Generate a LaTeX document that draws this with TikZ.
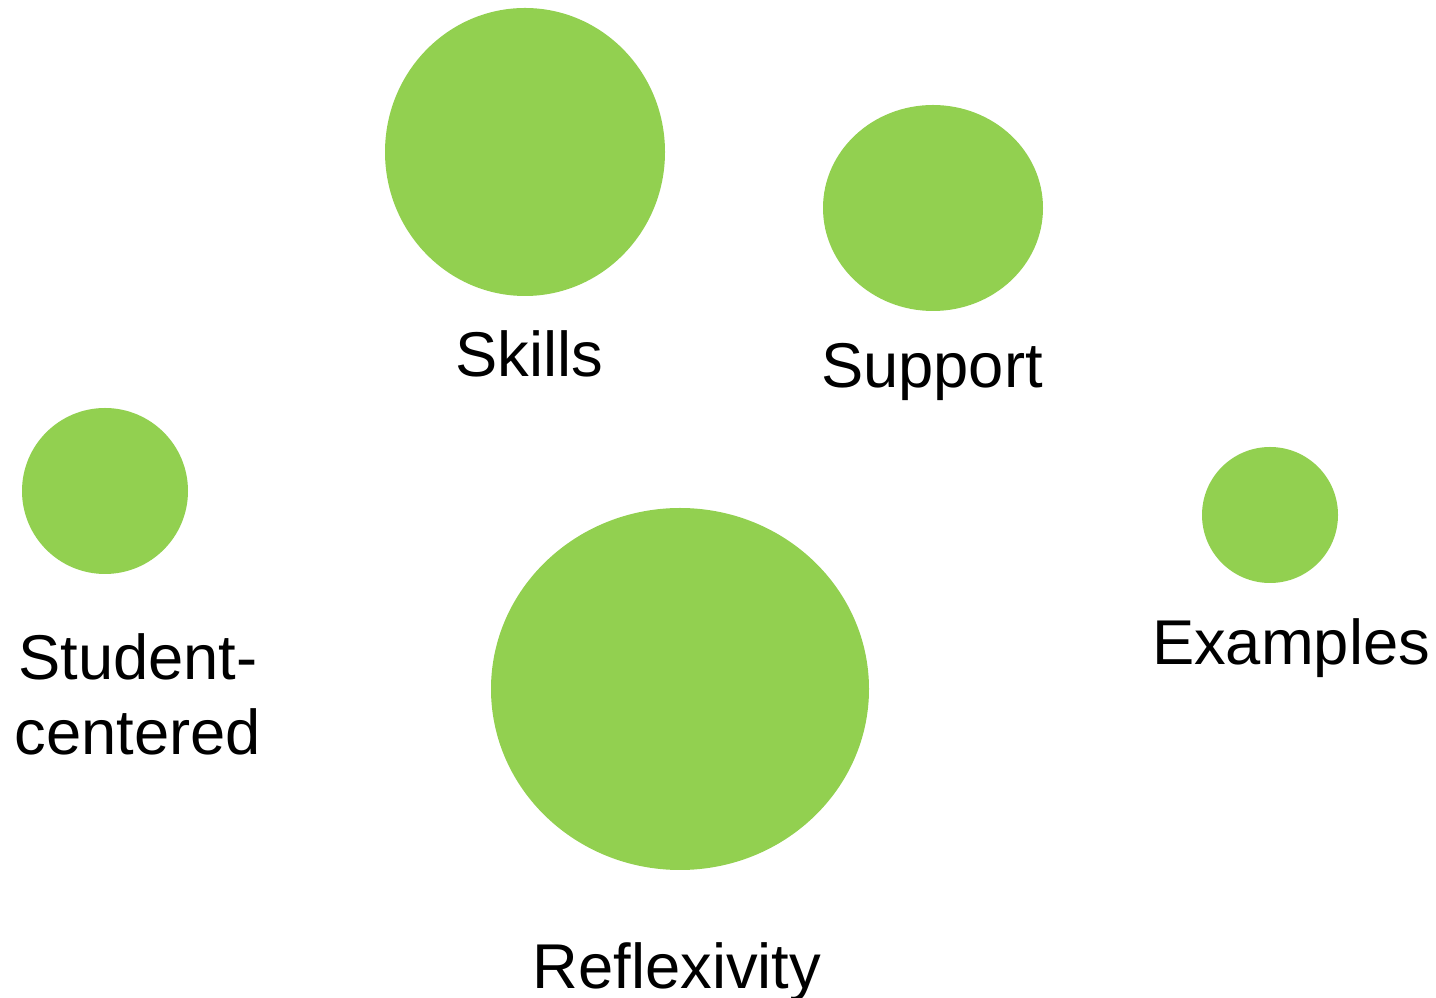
\documentclass[tikz,border=0pt]{standalone}
\usepackage{fontspec}
\setmainfont{Liberation Sans}
\usetikzlibrary{shapes.geometric}
\definecolor{bubbleGreen}{HTML}{92D050}

\begin{document}
\begin{tikzpicture}
[x=0.01cm,y=-0.01cm,
  bubbleDecorate/.style={shape=ellipse,inner sep=0pt,fill=bubbleGreen,draw=none},%
  labelDecorate/.style={anchor=base,align=center,inner sep=0pt,
    font=\fontsize{18pt}{21.6pt}\selectfont}]
\useasboundingbox (0,0) rectangle (1436,998);
%% bubbles
\foreach \nodename/\x/\y/\w/\h in {skills/525/152/280/288, support/933/208/220/206,
  student/105/491/166/166, examples/1270/515/136/136, reflexivity/680/689/378/362} {
  \node (\nodename) at (\x,\y) [bubbleDecorate,minimum width=\w*0.01cm,minimum height=\h*0.01cm] {};
}
%% labels
\node (skillsText) at (529,377) [labelDecorate] {Skills};
\node (supportText) at (932,388) [labelDecorate] {Support};
\node (studentText) at (138,755) [labelDecorate] {Student-\\centered};
\node (examplesText) at (1291,665) [labelDecorate] {Examples};
\node (reflexivityText) at (677,989) [labelDecorate] {Reflexivity};
\end{tikzpicture}
\end{document}
